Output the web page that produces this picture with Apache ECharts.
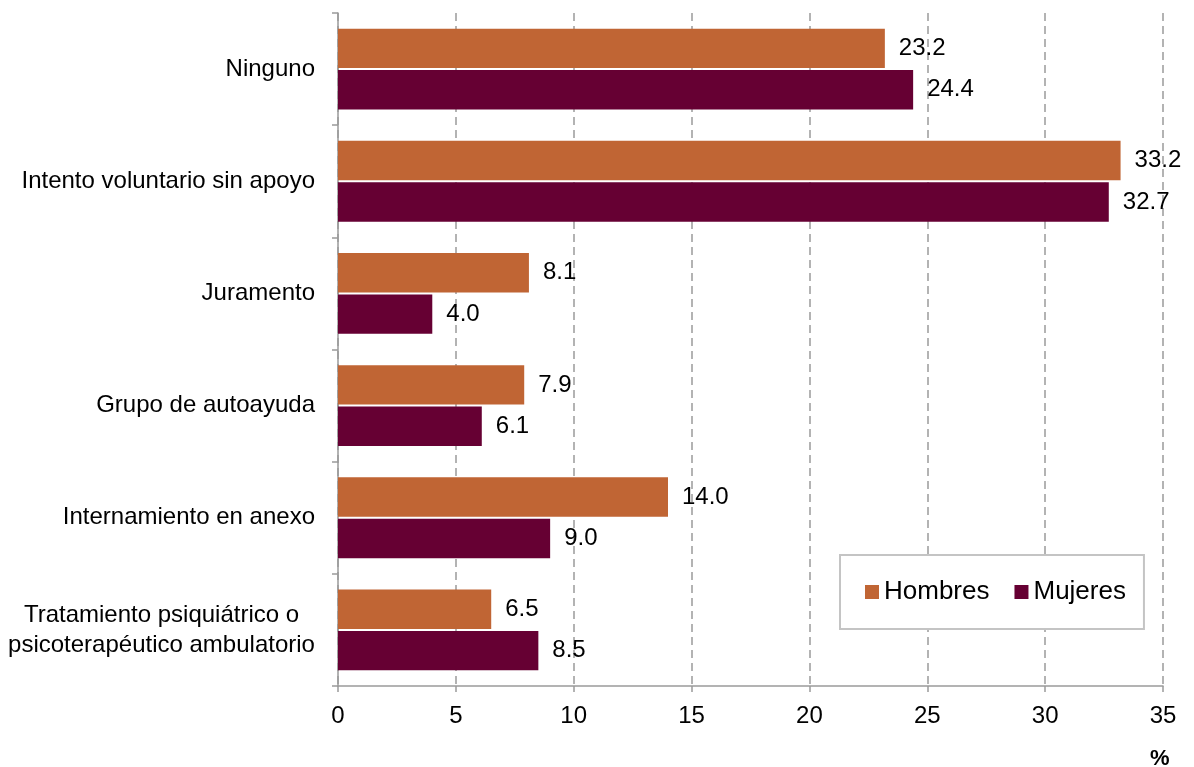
<!DOCTYPE html>
<html>
<head>
<meta charset="utf-8">
<script src="https://cdn.jsdelivr.net/npm/echarts@6/dist/echarts.min.js"></script>
<style>
  html, body { margin: 0; padding: 0; background: #fff; }
  #chart { width: 1194px; height: 767px; }
</style>
</head>
<body>
<div id="chart"></div>
<script>
// data, top to bottom
const categories = [
  'Ninguno',
  'Intento voluntario sin apoyo',
  'Juramento',
  'Grupo de autoayuda',
  'Internamiento en anexo',
  'Tratamiento psiquiátrico o\npsicoterapéutico ambulatorio',
]
const hombres = [23.2, 33.2, 8.1, 7.9, 14.0, 6.5]
const mujeres = [24.4, 32.7, 4.0, 6.1, 9.0, 8.5]
const xTicks = [0, 5, 10, 15, 20, 25, 30, 35]

const FONT = "'Liberation Sans', Arial, sans-serif"
const FS = 24
const axisGray = '#9a9a9a'

const chart = echarts.init(document.getElementById('chart'), null, { renderer: 'canvas' })

function barSeries(name, data, color) {
  return {
    name,
    type: 'bar',
    data,
    barCategoryGap: '28%',
    barGap: '5%',
    itemStyle: { color },
    label: {
      show: true,
      position: 'right',
      distance: 14,
      color: '#000',
      fontFamily: FONT,
      fontSize: FS,
      formatter: (p) => p.value.toFixed(1),
    },
    emphasis: { disabled: true },
  }
}

chart.setOption({
  animation: false,
  backgroundColor: '#fff',
  textStyle: { fontFamily: FONT },
  grid: { left: 338, right: 31, top: 13, bottom: 81, containLabel: false },
  legend: {
    data: ['Hombres', 'Mujeres'],
    left: 840,
    top: 555,
    orient: 'horizontal',
    icon: 'rect',
    itemWidth: 14,
    itemHeight: 14,
    itemGap: 25,
    padding: [24, 18, 24, 25],
    borderColor: '#c4c4c4',
    borderWidth: 2,
    backgroundColor: '#fff',
    selectedMode: false,
    textStyle: { fontFamily: FONT, fontSize: 26, color: '#000' },
  },
  xAxis: {
    type: 'value',
    min: xTicks[0],
    max: xTicks[xTicks.length - 1],
    interval: 5,
    axisLine: { show: true, lineStyle: { color: axisGray, width: 1.5 } },
    axisTick: { show: true, length: 6, lineStyle: { color: axisGray, width: 1.5 } },
    axisLabel: { color: '#000', fontFamily: FONT, fontSize: FS, margin: 18 },
    splitLine: { show: true, lineStyle: { color: axisGray, width: 1.5, type: [8, 5] } },
  },
  yAxis: {
    type: 'category',
    data: categories,
    inverse: true,
    axisLine: { show: true, lineStyle: { color: axisGray, width: 1.5 } },
    axisTick: { show: true, length: 6, lineStyle: { color: axisGray, width: 1.5 } },
    axisLabel: {
      color: '#000',
      fontFamily: FONT,
      fontSize: FS,
      margin: 23,
      formatter: (v) => {
        if (v.indexOf('\n') < 0) return v
        return v.split('\n').map((s) => '{c|' + s + '}').join('\n')
      },
      rich: {
        c: { width: 307, align: 'center', fontSize: FS, fontFamily: FONT, color: '#000', lineHeight: 30 },
      },
    },
    splitLine: { show: false },
  },
  graphic: [
    {
      type: 'text',
      left: 1150,
      top: 748,
      style: { text: '%', font: "bold 22px 'Liberation Sans', Arial, sans-serif", fill: '#000' },
    },
  ],
  series: [
    barSeries('Hombres', hombres, '#C06534'),
    barSeries('Mujeres', mujeres, '#660033'),
  ],
})
</script>
</body>
</html>
